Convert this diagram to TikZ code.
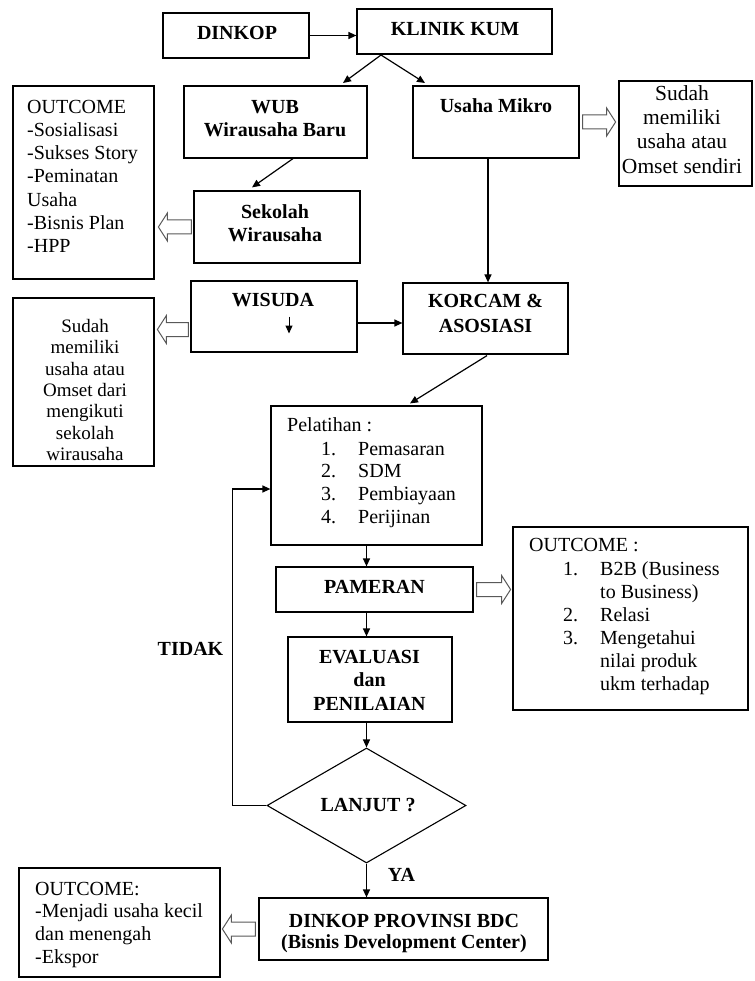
\documentclass[tikz,border=0pt]{standalone}
\usepackage{fontspec}
\setmainfont{Liberation Serif}
\usetikzlibrary{arrows.meta,shapes.geometric,calc}
\newcommand\fl{\rule{0pt}{15pt}}
\newcommand\hollowR[3]{\draw[hollow] #1 -- ++(0,-7) -- ++(#2,0) -- ++(0,-7) -- ++(#3,14) -- ++(-#3,14) -- ++(0,-7) -- ++(-#2,0) -- cycle;}
\newcommand\hollowL[3]{\draw[hollow] #1 -- ++(0,-7) -- ++(-#2,0) -- ++(0,-7) -- ++(-#3,14) -- ++(#3,14) -- ++(0,-7) -- ++(#2,0) -- cycle;}
\begin{document}
\begin{tikzpicture}[x=1pt,y=-1pt,
  box/.style={draw, line width=1.2pt, inner sep=0pt, rectangle},
  t20/.style={inner sep=0pt, font={\fontsize{20}{23.3}\selectfont}},
  b20/.style={inner sep=0pt, font={\fontsize{20}{23.5}\selectfont\bfseries}},
  arr/.style={line width=1.2pt, -{Triangle[length=8pt,width=7pt]}},
  hollow/.style={draw=black!65, line width=1pt, fill=white, line join=miter}]
\fill[white] (0,0) rectangle (754,981);
\path[use as bounding box] (0,0) rectangle (754,981);

% boxes
\node[box, minimum width=146pt, minimum height=45pt] (dinkop) at (236,35.5) {};
\node[box, minimum width=195pt, minimum height=45pt] (klinik) at (454.5,31.5) {};
\node[box, minimum width=183pt, minimum height=72pt] (wub) at (275.5,122) {};
\node[box, minimum width=166pt, minimum height=72pt] (um) at (496,122) {};
\node[box, minimum width=133pt, minimum height=105pt] (sudahR) at (685.5,133.5) {};
\node[box, minimum width=141pt, minimum height=193pt] (out1) at (83.5,182.5) {};
\node[box, minimum width=166pt, minimum height=72pt] (sek) at (277,227) {};
\node[box, minimum width=166pt, minimum height=71pt] (wis) at (274,316.5) {};
\node[box, minimum width=141pt, minimum height=168pt] (sudahL) at (83.5,382) {};
\node[box, minimum width=165pt, minimum height=71pt] (korcam) at (485.5,318.5) {};
\node[box, minimum width=211pt, minimum height=139pt] (pel) at (376.5,475.5) {};
\node[box, minimum width=197pt, minimum height=45pt] (pam) at (374.5,589.5) {};
\node[box, minimum width=235pt, minimum height=183pt] (out2) at (630.5,618.5) {};
\node[box, minimum width=164pt, minimum height=85pt] (eval) at (370,679.5) {};
\node[draw, diamond, line width=1.1pt, minimum width=199pt, minimum height=115pt, inner sep=0pt] (dia) at (366.5,805.5) {};
\node[box, minimum width=289pt, minimum height=62pt] (prov) at (403.5,929) {};
\node[box, minimum width=201pt, minimum height=109pt] (out3) at (119.5,922.5) {};

% texts
\node[b20, anchor=base] (tdinkop) at (237,40) {DINKOP};
\node[b20, anchor=base] (tklinik) at (455,36) {KLINIK KUM};
\node[b20, anchor=north, align=center] (twub) at (275,98) {\fl WUB\\Wirausaha Baru};
\node[b20, anchor=base] (tum) at (496,113) {Usaha Mikro};
\node[inner sep=0pt, font={\fontsize{21.5}{24.3}\selectfont}, anchor=north, align=center] (tsudahR) at (682,85) {\fl Sudah\\memiliki\\usaha atau\\Omset sendiri};
\node[t20, anchor=north west, align=left, font={\fontsize{20}{23.25}\selectfont}] (tout1) at (27,98) {\fl OUTCOME\\-Sosialisasi\\-Sukses Story\\-Peminatan\\Usaha\\-Bisnis Plan\\-HPP};
\node[b20, anchor=north, align=center, font={\fontsize{20}{23}\selectfont\bfseries}] (tsek) at (275,203) {\fl Sekolah\\Wirausaha};
\node[b20, anchor=base] (twis) at (273,306) {WISUDA};
\node[inner sep=0pt, font={\fontsize{19}{21.4}\selectfont}, anchor=north, align=center] (tsudahL) at (85,317) {\fl Sudah\\memiliki\\usaha atau\\Omset dari\\mengikuti\\sekolah\\wirausaha};
\node[b20, anchor=north, align=center, font={\fontsize{20}{25}\selectfont\bfseries}] (tkorcam) at (485.5,292) {\fl KORCAM \&\\ASOSIASI};
\node[t20, anchor=base west] (tpel) at (287,431) {Pelatihan :};
\node[t20, anchor=north west, align=left, font={\fontsize{20}{22.7}\selectfont}] (tpelnum) at (321,440) {\fl 1.\\2.\\3.\\4.};
\node[t20, anchor=north west, align=left, font={\fontsize{20}{22.7}\selectfont}] (tpelitem) at (358,440) {\fl Pemasaran\\SDM\\Pembiayaan\\Perijinan};
\node[b20, anchor=base] (tpam) at (374.5,593) {PAMERAN};
\node[b20, anchor=north, align=center] (teval) at (369.5,648) {\fl EVALUASI\\dan\\PENILAIAN};
\node[b20, anchor=base] (tdia) at (368,811) {LANJUT ?};
\node[b20, anchor=base] (tya) at (401.5,881) {YA};
\node[b20, anchor=base] (ttidak) at (190.5,655) {TIDAK};
\node[b20, anchor=north, align=center, font={\fontsize{20}{21.5}\selectfont\bfseries}] (tprov) at (404,912) {\fl DINKOP PROVINSI BDC\\(Bisnis Development Center)};
\node[t20, anchor=north west, align=left, font={\fontsize{20}{22.7}\selectfont}] (tout3) at (35,880) {\fl OUTCOME:\\-Menjadi usaha kecil\\dan menengah\\-Ekspor};
\node[t20, anchor=base west] (tout2) at (529,551) {OUTCOME :};
\node[t20, anchor=north west, align=left, font={\fontsize{20}{23.1}\selectfont}] (tout2num) at (563,560) {\fl 1.\\\phantom{1.}\\2.\\3.};
\node[t20, anchor=north west, align=left, font={\fontsize{20}{23.1}\selectfont}] (tout2item) at (600,560) {\fl B2B (Business\\to Business)\\Relasi\\Mengetahui\\nilai produk\\ukm terhadap};

% connectors
\coordinate (ks) at (381,55);
\coordinate (wubin) at (343,83);
\coordinate (umin) at (425,83);
\draw[arr] (dinkop.east) -- (dinkop.east -| klinik.west);
\draw[arr] (ks) -- (wubin);
\draw[arr] (ks) -- (umin);
\draw[arr] ([xshift=17.5pt]wub.south) -- ([xshift=-25pt,yshift=3pt]sek.north);
\draw[arr] ([xshift=-8pt]um.south) -- ([xshift=-8pt]um.south |- korcam.north);
\draw[arr] ([yshift=-6.5pt]wis.east) -- ([yshift=-6.5pt]wis.east -| korcam.west);
\draw[arr, line width=1pt] ([xshift=15pt]wis.center) -- ([xshift=15pt,yshift=-17pt]wis.center);
\draw[arr] ([xshift=1.5pt,yshift=-1pt]korcam.south) -- ([xshift=33.5pt,yshift=2pt]pel.north);
\draw[arr] (pel.south -| dia.north) -- (pam.north -| dia.north);
\draw[arr] (pam.south -| dia.north) -- (eval.north -| dia.north);
\draw[arr] (eval.south -| dia.north) -- (dia.north);
\draw[arr] (dia.south) -- (dia.south |- prov.north);
\draw[arr] (dia.west) -- ++(-34,0) |- ([yshift=-13.5pt]pel.west);

% hollow arrows
\hollowR{([xshift=3pt]um.east)}{24}{9}
\hollowL{([xshift=-2pt]sek.west)}{24}{9}
\hollowL{([xshift=-2pt,yshift=-13pt]wis.west)}{22}{9}
\hollowR{([xshift=3pt]pam.east)}{25}{9}
\hollowL{([xshift=-3pt]prov.west)}{24}{9}
\end{tikzpicture}
\end{document}
